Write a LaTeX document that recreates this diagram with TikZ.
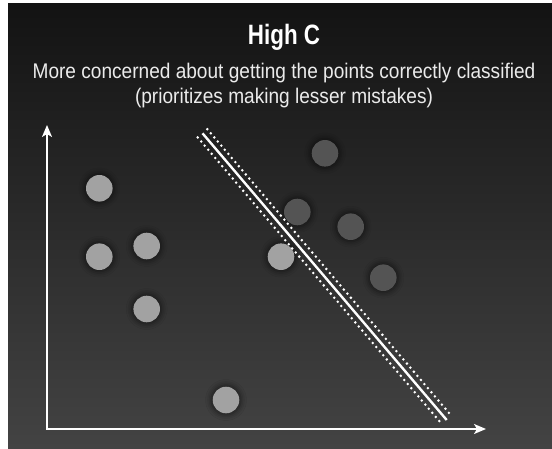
\documentclass[tikz,border=0pt]{standalone}
\usepackage{fontspec}
\setmainfont{Liberation Sans}
\newfontfamily\subfont[FakeStretch=0.9]{Liberation Sans}
\newfontfamily\titlefont[FakeStretch=0.8]{Liberation Sans}
\usetikzlibrary{arrows.meta,shadows.blur}
\definecolor{bgtop}{HTML}{131313}
\definecolor{bgbot}{HTML}{434343}
\definecolor{lightpt}{HTML}{A2A2A2}
\definecolor{darkpt}{HTML}{545454}
\tikzset{
  pt/.style={circle,minimum size=26.6pt,inner sep=0pt,
    blur shadow={shadow xshift=0pt,shadow yshift=0pt,shadow blur radius=5pt,shadow opacity=55,shadow scale=1.12}},
  lightdot/.style={pt,fill=lightpt},
  darkdot/.style={pt,fill=darkpt},
  axisline/.style={draw=white,line width=1.6pt,
    {Stealth[length=12pt,width=10pt,inset=3pt]}-{Stealth[length=12pt,width=10pt,inset=3pt]}},
  sepline/.style={draw=white,line width=2.4pt},
  marginline/.style={draw=white,line width=2.8pt,line cap=round,dash pattern=on 0pt off 5.4pt},
  titletext/.style={text=white,anchor=base,inner sep=0pt,font=\titlefont\bfseries\fontsize{28}{32}\selectfont},
  subtext/.style={text=white!92!black,anchor=base,inner sep=0pt,font=\subfont\fontsize{21.2}{25}\selectfont}
}
\begin{document}
\begin{tikzpicture}[x=1pt,y=1pt]
\useasboundingbox (0,0) rectangle (552,448);
\fill[white] (0,0) rectangle (552,448);
\shade[top color=bgtop,bottom color=bgbot] (8,0) rectangle (552,444);

\node[titletext] (title) at (284,403) {High C};
\node[subtext] (sub1) at (284,369) {More concerned about getting the points correctly classified};
\node[subtext] (sub2) at (284,344) {(prioritizes making lesser mistakes)};

% points
\node[lightdot] (l1) at (99.3,259.7) {};
\node[lightdot] (l2) at (99.3,191.3) {};
\node[lightdot] (l3) at (146.7,202) {};
\node[lightdot] (l4) at (146.7,139) {};
\node[lightdot] (l5) at (281,191.3) {};
\node[lightdot] (l6) at (226,48) {};
\node[darkdot] (d1) at (325,294.7) {};
\node[darkdot] (d2) at (297.3,236) {};
\node[darkdot] (d3) at (350.7,221.3) {};
\node[darkdot] (d4) at (383.3,170.3) {};

% separating line and margins
\coordinate (s1) at (202.5,314.7);
\coordinate (s2) at (446.7,28);
\coordinate (u1) at (207.3,318.8);
\coordinate (u2) at (451.5,32.1);
\coordinate (w1) at (197.7,310.6);
\coordinate (w2) at (441.9,23.9);
\draw[marginline] (u1) -- (u2);
\draw[marginline] (w1) -- (w2);
\draw[sepline] (s1) -- (s2);

% axes
\coordinate (O) at (47,19);
\coordinate (ytip) at (47,323);
\coordinate (xtip) at (486,19);
\draw[axisline] (ytip) -- (O) -- (xtip);
\end{tikzpicture}
\end{document}
